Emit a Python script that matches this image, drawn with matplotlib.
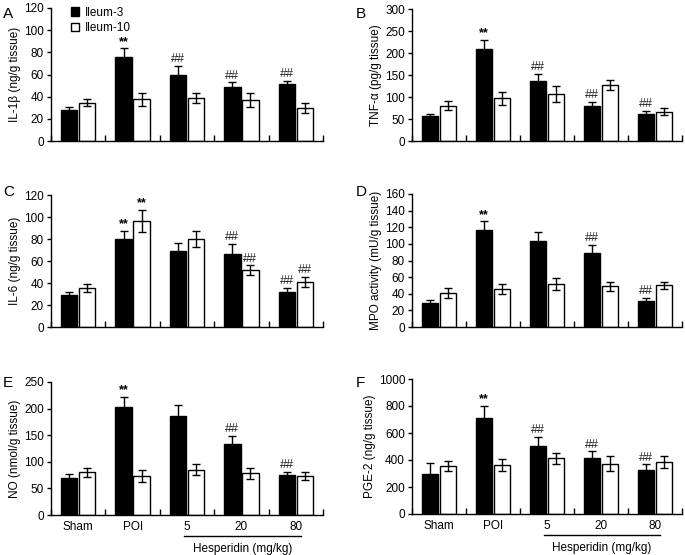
import matplotlib
matplotlib.use("Agg")
import matplotlib.pyplot as plt
import numpy as np

plt.rcParams['font.family'] = ['Liberation Sans', 'DejaVu Sans']

groups = ["Sham", "POI", "5", "20", "80"]
series_names = ["Ileum-3", "Ileum-10"]

# Panel A: IL-1β
a_il3 = [28, 76, 60, 49, 51]
a_il3_err = [3, 7.5, 8, 4, 3]
a_il10 = [34.5, 37.5, 38.5, 37, 30]
a_il10_err = [3, 5.5, 4.5, 6, 4.5]
a_il3_lab = ["", "**", "##", "##", "##"]
a_il10_lab = ["", "", "", "", ""]

# Panel B: TNF-α
b_il3 = [57, 209, 137, 79, 61]
b_il3_err = [5, 21, 15, 10, 8]
b_il10 = [80, 97, 107, 127, 67]
b_il10_err = [10, 15, 18, 12, 7]
b_il3_lab = ["", "**", "##", "##", "##"]
b_il10_lab = ["", "", "", "", ""]

# Panel C: IL-6
c_il3 = [29, 80, 69.5, 66.5, 32]
c_il3_err = [3, 7.5, 7, 9, 3.5]
c_il10 = [35.5, 96.5, 80, 51.5, 41]
c_il10_err = [3.8, 10, 7.5, 4.5, 4.3]
c_il3_lab = ["", "**", "", "##", "##"]
c_il10_lab = ["", "**", "", "##", "##"]

# Panel D: MPO activity
d_il3 = [29, 117, 104, 89.5, 31]
d_il3_err = [3.2, 10, 10, 9, 4]
d_il10 = [41, 45.5, 51.5, 48.8, 50]
d_il10_err = [6.5, 6, 7, 5.5, 4.5]
d_il3_lab = ["", "**", "", "##", "##"]
d_il10_lab = ["", "", "", "", ""]

# Panel E: NO
e_il3 = [69.5, 203, 187, 133, 75]
e_il3_err = [7, 19, 20, 16, 6.5]
e_il10 = [80, 73, 85, 78.5, 73]
e_il10_err = [8.5, 11, 10, 10, 8]
e_il3_lab = ["", "**", "", "##", "##"]
e_il10_lab = ["", "", "", "", ""]

# Panel F: PGE-2
f_il3 = [300, 714, 506, 412, 323]
f_il3_err = [75, 88, 64, 52, 45]
f_il10 = [357, 363, 412, 373, 385]
f_il10_err = [37, 44, 40, 57, 45]
f_il3_lab = ["", "**", "##", "##", "##"]
f_il10_lab = ["", "", "", "", ""]

panels = [
    ("A", "IL-1β (ng/g tissue)", a_il3, a_il3_err, a_il10, a_il10_err, a_il3_lab, a_il10_lab, [0, 20, 40, 60, 80, 100, 120]),
    ("B", "TNF-α (pg/g tissue)", b_il3, b_il3_err, b_il10, b_il10_err, b_il3_lab, b_il10_lab, [0, 50, 100, 150, 200, 250, 300]),
    ("C", "IL-6 (ng/g tissue)", c_il3, c_il3_err, c_il10, c_il10_err, c_il3_lab, c_il10_lab, [0, 20, 40, 60, 80, 100, 120]),
    ("D", "MPO activity (mU/g tissue)", d_il3, d_il3_err, d_il10, d_il10_err, d_il3_lab, d_il10_lab, [0, 20, 40, 60, 80, 100, 120, 140, 160]),
    ("E", "NO (nmol/g tissue)", e_il3, e_il3_err, e_il10, e_il10_err, e_il3_lab, e_il10_lab, [0, 50, 100, 150, 200, 250]),
    ("F", "PGE-2 (ng/g tissue)", f_il3, f_il3_err, f_il10, f_il10_err, f_il3_lab, f_il10_lab, [0, 200, 400, 600, 800, 1000]),
]

W, H = 685, 555
fig = plt.figure(figsize=(W / 100, H / 100), dpi=100)

# pixel boxes: left, right, top, bottom
boxes = [
    (51, 323, 8, 141), (412, 682, 9, 141),
    (51, 323, 195, 327), (412, 682, 194, 327),
    (51, 323, 382, 515), (412, 682, 379, 514),
]
letter_pos = [(3, 14), (356, 14), (3, 192), (356, 192), (3, 383), (356, 383)]

x = np.arange(len(groups))
bw = 0.3
off = 0.165
fs = 8.5

for i, (letter, ylabel, s1, e1, s2, e2, l1, l2, yt) in enumerate(panels):
    l, r, t, b = boxes[i]
    ax = fig.add_axes([l / W, 1 - b / H, (r - l) / W, (b - t) / H])
    ek = dict(ecolor='black', elinewidth=1, capsize=2.8, capthick=1)
    ax.bar(x - off, s1, bw, yerr=e1, color='black', edgecolor='black',
           linewidth=1, error_kw=ek, label=series_names[0], zorder=2)
    ax.bar(x + off, s2, bw, yerr=e2, color='white', edgecolor='black',
           linewidth=1, error_kw=ek, label=series_names[1], zorder=2)
    for xs, vals, errs, labs in ((x - off, s1, e1, l1), (x + off, s2, e2, l2)):
        for xi, v, e, lab in zip(xs, vals, errs, labs):
            if lab:
                if lab == "**":
                    ax.annotate(lab, (xi, v + e), xytext=(0, 0.5), textcoords='offset points',
                                ha='center', va='bottom', fontsize=9, fontweight='bold')
                else:
                    ax.annotate(lab, (xi, v + e), xytext=(0, 0.5), textcoords='offset points',
                                ha='center', va='bottom', fontsize=9, color='#222222')
    ax.set_xlim(-0.5, 4.5)
    ax.set_ylim(yt[0], yt[-1])
    ax.set_yticks(yt)
    ax.tick_params(axis='y', direction='out', length=3, width=1, labelsize=fs, pad=2)
    ax.set_xticks(np.arange(-0.5, 5, 1.0))
    ax.set_xticklabels([])
    ax.tick_params(axis='x', which='major', direction='in', length=4, width=1)
    ax.set_xticks(x, minor=True)
    if letter in ("E", "F"):
        ax.set_xticklabels(groups, minor=True)
    ax.tick_params(axis='x', which='minor', length=0, labelsize=fs, pad=4)
    for sp in ('top', 'right'):
        ax.spines[sp].set_visible(False)
    for sp in ('left', 'bottom'):
        ax.spines[sp].set_linewidth(1)
    ax.set_ylabel(ylabel, fontsize=fs, labelpad=2)
    lx, ly = letter_pos[i]
    fig.text(lx / W, 1 - ly / H, letter, fontsize=11, ha='left', va='center')
    if letter == "A":
        ax.legend(loc='upper left', bbox_to_anchor=(0.055, 1.045), frameon=False,
                  fontsize=fs, handlelength=0.7, handleheight=0.7, handletextpad=0.5,
                  labelspacing=0.3, borderaxespad=0)
    if letter in ("E", "F"):
        trans = ax.get_xaxis_transform()
        ax.plot([1.95, 4.1], [-0.158, -0.158], color='black', lw=1, transform=trans, clip_on=False)
        ax.text(3.02, -0.255, "Hesperidin (mg/kg)", transform=trans, ha='center', va='center', fontsize=fs)

fig.savefig("out.png", dpi=100)
